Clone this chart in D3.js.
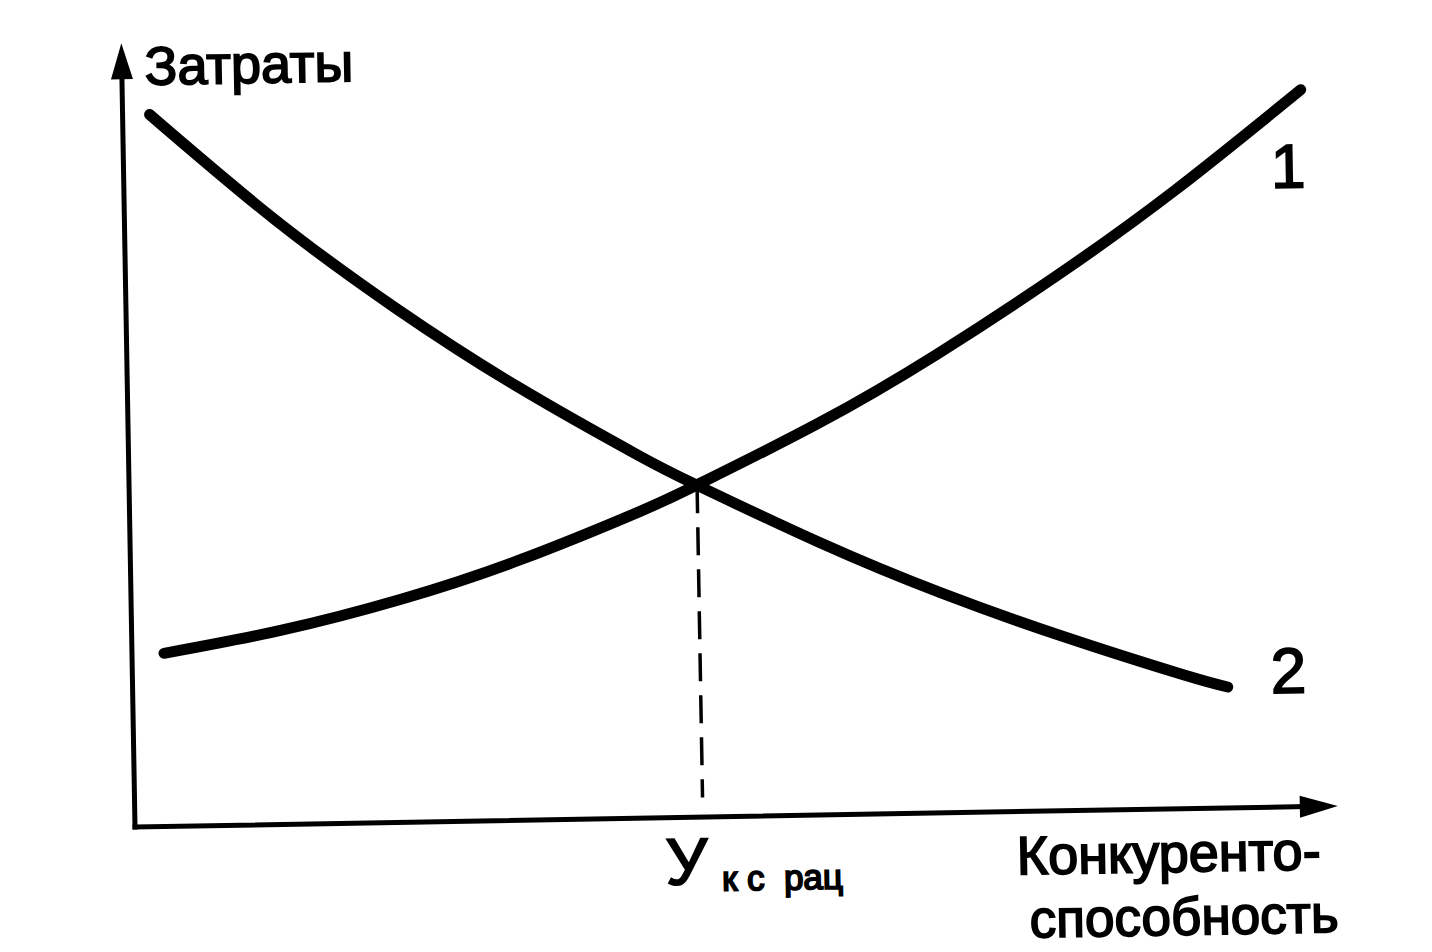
<!DOCTYPE html>
<html>
<head>
<meta charset="utf-8">
<script src="https://cdn.jsdelivr.net/npm/d3@7"></script>
<style>
  html, body { margin: 0; padding: 0; background: #fff; }
  svg { display: block; }
  text { font-family: "Liberation Sans", Arial, sans-serif; fill: #000; }
</style>
</head>
<body>
<svg id="chart" width="1432" height="952"></svg>
<script>
// ---- data (x: competitiveness, y: costs; arbitrary units 0..100) ----
const curve1X = [2.67, 12.5, 22.5, 32.5, 42.5, 47.33, 57.5, 67.5, 77.5, 87.5, 98.2];
const curve1Y = [22.2, 24.9, 28.6, 33.4, 39.3, 42.6, 50.2, 58.8, 68.5, 79.2, 91.9];
const curve2X = [2.25, 12.5, 22.5, 32.5, 42.5, 47.33, 57.5, 67.5, 77.5, 87.5, 91.25];
const curve2Y = [91.3, 77.6, 65.9, 55.6, 46.5, 42.55, 34.9, 28.2, 22.4, 17.2, 15.5];
const curveLabels = ["1", "2"];
const optimumX = 47.33;     // У кс рац
const optimumY = 42.55;
const dashBottomY = 2.5;
const axisLabelY = "Затраты";
const axisLabelX = ["Конкуренто-", "способность"];
const optimumLabelMain = "У";
const optimumLabelSub = "к с  рац";

// ---- layout ----
const svg = d3.select("#chart");
const origin = [135, 827];
const tilt = -1.0;   // slight scan rotation of the original figure
const g = svg.append("g").attr("transform", `translate(${origin[0]},${origin[1]}) rotate(${tilt})`);

const x = d3.scaleLinear().domain([0, 100]).range([0, 1200]);
const y = d3.scaleLinear().domain([0, 100]).range([0, -780]);

// axes
const axisW = 5;
g.append("line").attr("x1", 0).attr("y1", 0).attr("x2", x(97.5)).attr("y2", 0)
  .attr("stroke", "#000").attr("stroke-width", axisW).attr("stroke-linecap", "square");
g.append("line").attr("x1", 0).attr("y1", 0).attr("x2", 0).attr("y2", y(96.5))
  .attr("stroke", "#000").attr("stroke-width", axisW).attr("stroke-linecap", "square");
g.append("path")
  .attr("d", d3.line()([[x(100.25), 0], [x(100.25) - 38, -11], [x(100.25) - 38, 11]]) + "Z")
  .attr("fill", "#000");
g.append("path")
  .attr("d", d3.line()([[0, y(100.5)], [-11, y(100.5) + 36], [11, y(100.5) + 36]]) + "Z")
  .attr("fill", "#000");

// curves
const line = d3.line().x(d => x(d[0])).y(d => y(d[1])).curve(d3.curveNatural);
const series = [
  d3.zip(curve1X, curve1Y),
  d3.zip(curve2X, curve2Y)
];
g.selectAll("path.curve").data(series).join("path")
  .attr("class", "curve")
  .attr("d", line)
  .attr("fill", "none")
  .attr("stroke", "#000")
  .attr("stroke-width", 11)
  .attr("stroke-linecap", "round")
  .attr("stroke-linejoin", "round");

// dashed drop line
g.append("line")
  .attr("x1", x(optimumX)).attr("y1", y(optimumY))
  .attr("x2", x(optimumX)).attr("y2", y(dashBottomY))
  .attr("stroke", "#000").attr("stroke-width", 3.5)
  .attr("stroke-dasharray", "28,14");

// texts
const heavy = sel => sel.attr("stroke", "#000").attr("stroke-width", 1.8);

g.append("text").attr("x", 23).attr("y", -742)
  .attr("font-size", 54).text(axisLabelY).call(heavy);

g.append("text").attr("x", x(curve1X[curve1X.length - 1]) - 14).attr("y", -619)
  .attr("text-anchor", "middle").attr("font-size", 62).text(curveLabels[0]).call(heavy);
g.append("text").attr("x", x(curve2X[curve2X.length - 1]) + 61).attr("y", -114)
  .attr("text-anchor", "middle").attr("font-size", 64).text(curveLabels[1]).call(heavy);

g.append("text").attr("x", x(optimumX) - 38).attr("y", 67)
  .attr("font-size", 66).text(optimumLabelMain).call(heavy);
g.append("text").attr("x", x(optimumX) + 18).attr("y", 74)
  .attr("font-size", 35).attr("xml:space", "preserve")
  .style("white-space", "pre").text(optimumLabelSub).call(heavy);

g.append("text").attr("x", 881).attr("y", 63)
  .attr("font-size", 54).text(axisLabelX[0]).call(heavy);
g.append("text").attr("x", 893).attr("y", 126)
  .attr("font-size", 53).text(axisLabelX[1]).call(heavy);
</script>
</body>
</html>
